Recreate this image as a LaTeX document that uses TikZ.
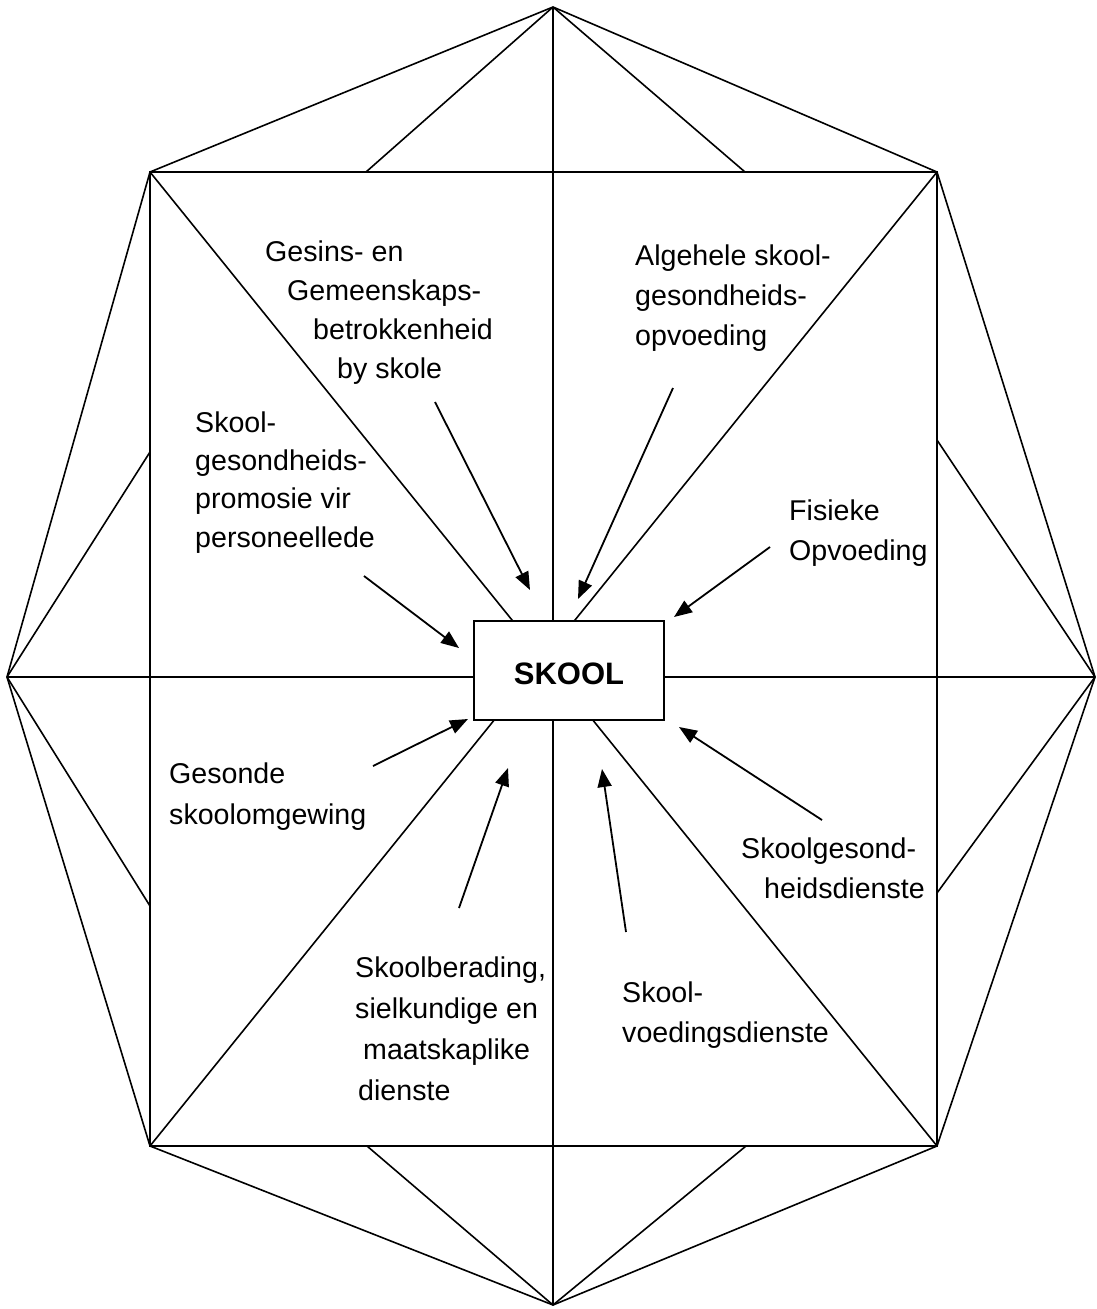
\documentclass[tikz,border=0pt]{standalone}
\usepackage{fontspec}
\setmainfont{Liberation Sans}
\usetikzlibrary{arrows.meta}
\begin{document}
\begin{tikzpicture}[x=1pt,y=-1pt,
  frame/.style={line width=1.6pt, line join=round},
  sq/.style={line width=2pt},
  lbl/.style={anchor=north west, inner sep=0pt, align=left,
    font=\fontsize{28.6}{#1}\selectfont},
  lbl/.default=40,
  feed/.style={line width=1.8pt, -{Triangle[length=18pt,width=14pt]}},
]
\useasboundingbox (0,0) rectangle (1097,1309);

% outer octagon and the inner square
\coordinate (T)  at (553,7);
\coordinate (B)  at (553,1305);
\coordinate (L)  at (7,677);
\coordinate (R)  at (1095,677);
\coordinate (TL) at (150,172);
\coordinate (TR) at (937,172);
\coordinate (BR) at (937,1146);
\coordinate (BL) at (150,1146);
% feet of the fan lines on the square
\coordinate (t1) at (366,172);
\coordinate (t2) at (745,172);
\coordinate (b1) at (367,1146);
\coordinate (b2) at (746,1146);
\coordinate (l1) at (150,452);
\coordinate (l2) at (150,906);
\coordinate (r1) at (937,440);
\coordinate (r2) at (937,893);

\draw[frame] (T) -- (TR) -- (R) -- (BR) -- (B) -- (BL) -- (L) -- (TL) -- cycle;
\draw[frame] (T) -- (t1) (T) -- (t2) (B) -- (b1) (B) -- (b2)
             (L) -- (l1) (L) -- (l2) (R) -- (r1) (R) -- (r2);
\draw[frame] (T) -- (B) (L) -- (R) (TL) -- (BR) (TR) -- (BL);
\draw[sq] (TL) rectangle (BR);

% centre box
\node[draw, fill=white, line width=2pt, minimum width=190pt, minimum height=99pt,
      font=\fontsize{31}{36}\selectfont\bfseries] (school) at (569,670.5)
      {\raisebox{-3pt}[\height][\depth]{SKOOL}};

% labels
\node[lbl=39] (fam) at (265,234)
  {\strut Gesins- en\\\hspace*{22pt}Gemeenskaps-\\\hspace*{48pt}betrokkenheid\\\hspace*{72pt}by skole};
\node[lbl=38.3] (staff) at (195,405.2)
  {\strut Skool-\\gesondheids-\\promosie vir\\personeellede};
\node[lbl] (whole) at (635,237)
  {\strut Algehele skool-\\gesondheids-\\opvoeding};
\node[lbl] (pe) at (789,492)
  {\strut Fisieke\\Opvoeding};
\node[lbl=41] (env) at (169,754.3)
  {\strut Gesonde\\skoolomgewing};
\node[lbl=41] (couns) at (355,948.3)
  {\strut Skoolberading,\\sielkundige en\\\hspace*{8pt}maatskaplike\\\hspace*{3pt}dienste};
\node[lbl] (hsvc) at (741,830)
  {\strut Skoolgesond-\\\hspace*{23pt}heidsdienste};
\node[lbl] (nutr) at (622,974)
  {\strut Skool-\\voedingsdienste};

% arrows towards the school
\coordinate (a1s) at (435,402); \coordinate (a1e) at (530,590);
\coordinate (a2s) at (673,388); \coordinate (a2e) at (578,599);
\coordinate (a3s) at (770,547); \coordinate (a3e) at (674,617);
\coordinate (a4s) at (364,576); \coordinate (a4e) at (459,648);
\coordinate (a5s) at (373,766); \coordinate (a5e) at (468,719);
\coordinate (a6s) at (459,908); \coordinate (a6e) at (508,768);
\coordinate (a7s) at (626,932); \coordinate (a7e) at (602,769);
\coordinate (a8s) at (822,820); \coordinate (a8e) at (679,727);
\draw[feed] (a1s) -- (a1e);
\draw[feed] (a2s) -- (a2e);
\draw[feed] (a3s) -- (a3e);
\draw[feed] (a4s) -- (a4e);
\draw[feed] (a5s) -- (a5e);
\draw[feed] (a6s) -- (a6e);
\draw[feed] (a7s) -- (a7e);
\draw[feed] (a8s) -- (a8e);
\end{tikzpicture}
\end{document}
